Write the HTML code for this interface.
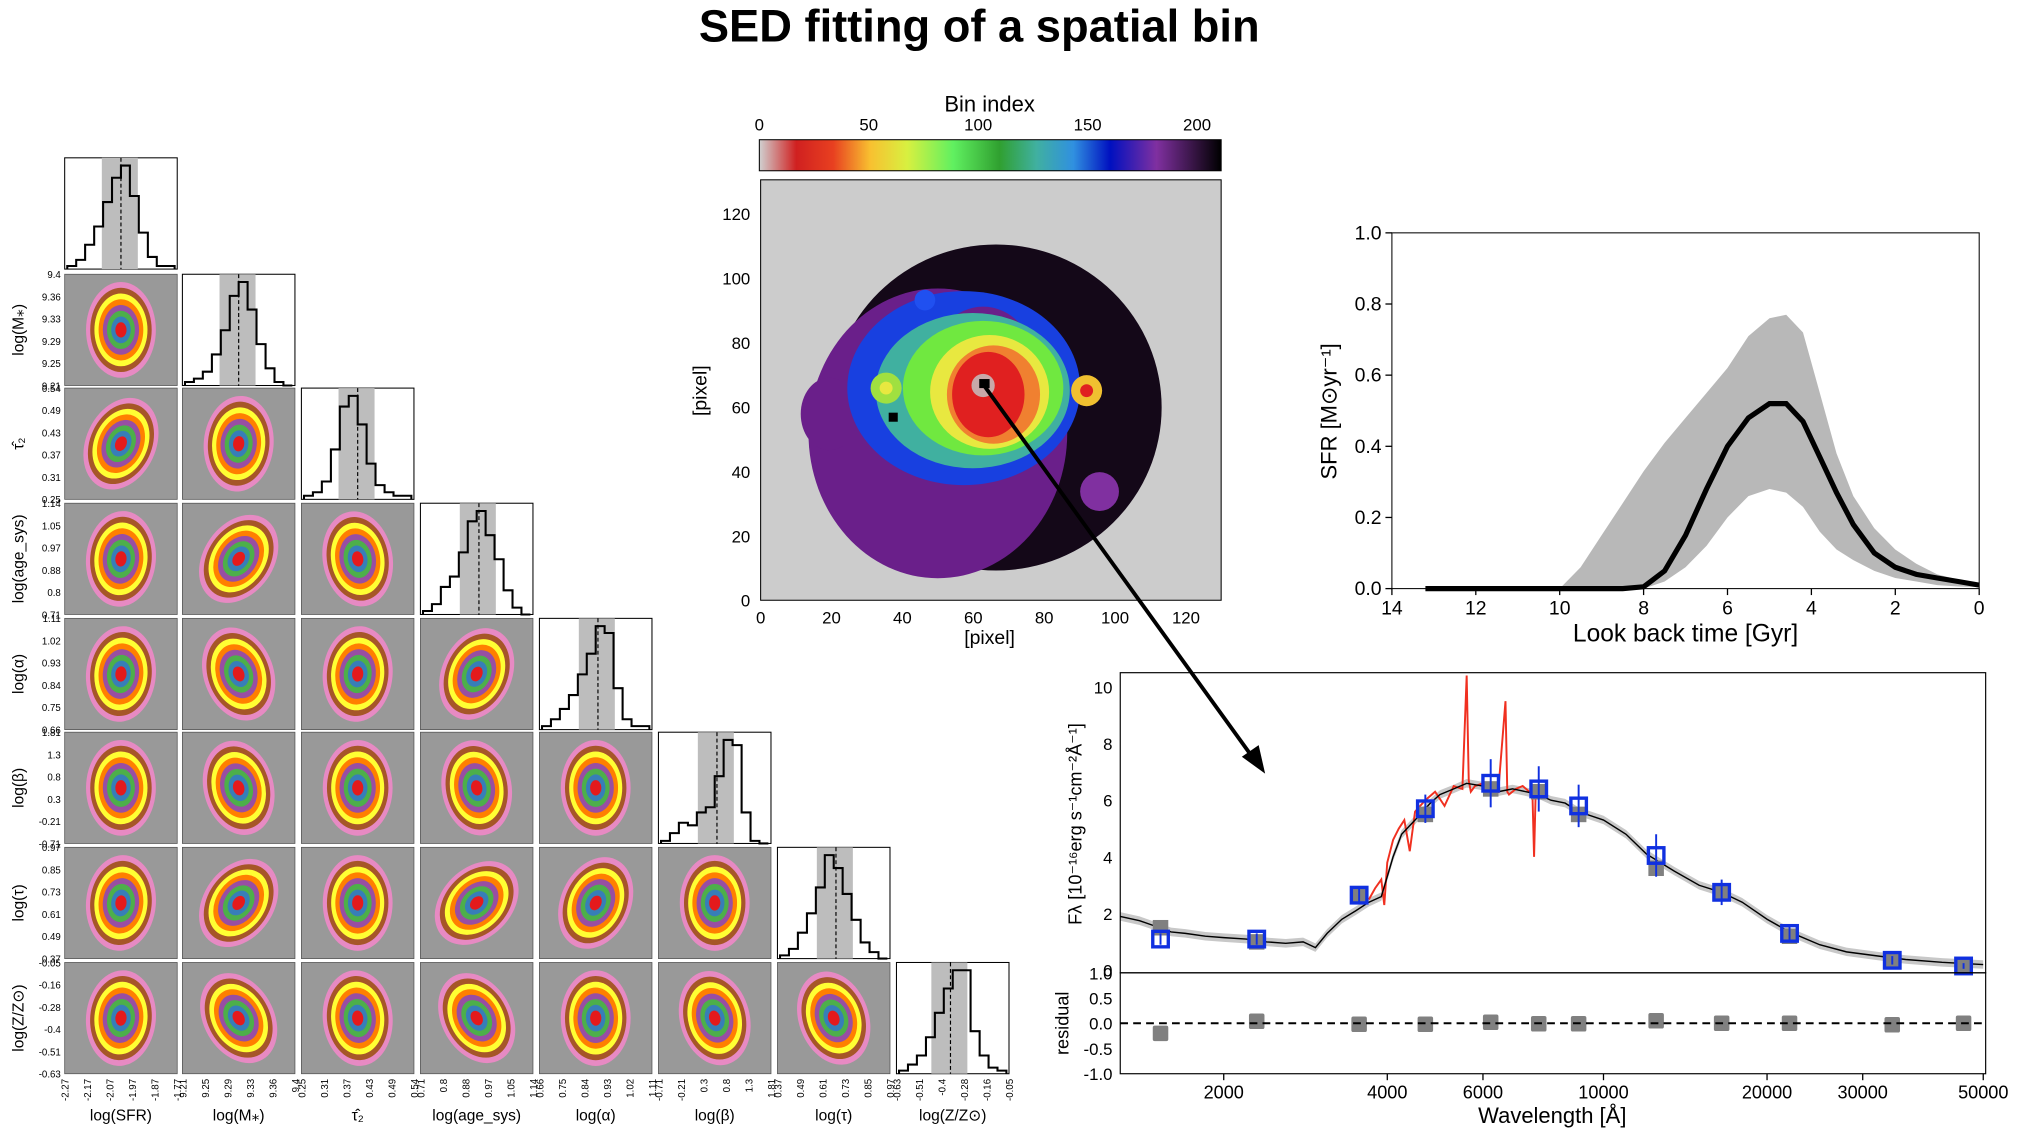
<!DOCTYPE html>
<html><head><meta charset="utf-8"><style>
html,body{margin:0;padding:0;background:#fff;}
svg{display:block;font-family:"Liberation Sans",sans-serif;}
</style></head><body>
<svg id="root" width="2018" height="1130" viewBox="0 0 1560 873.5" preserveAspectRatio="none" xmlns="http://www.w3.org/2000/svg">
<defs>
<linearGradient id="cbar" x1="0" x2="1" y1="0" y2="0">
<stop offset="0" stop-color="#d0d0d0"/><stop offset="0.08" stop-color="#d02020"/><stop offset="0.16" stop-color="#e84020"/>
<stop offset="0.24" stop-color="#f8c030"/><stop offset="0.32" stop-color="#d8f040"/><stop offset="0.42" stop-color="#60f060"/>
<stop offset="0.52" stop-color="#30a030"/><stop offset="0.6" stop-color="#40b0a0"/><stop offset="0.68" stop-color="#3090e0"/>
<stop offset="0.76" stop-color="#0010c0"/><stop offset="0.86" stop-color="#8030a0"/><stop offset="1" stop-color="#000000"/>
</linearGradient>
</defs>
<text x="757" y="32" text-anchor="middle" font-size="35" font-weight="bold">SED fitting of a spatial bin</text>
</svg>
<script>
// ---------- data ----------
var sfhAge = [13.2,10,9.5,9,8.5,8,7.5,7,6.5,6,5.5,5,4.6,4.2,3.8,3.4,3,2.5,2,1.5,1,0.5,0];
var sfhMed = [0,0,0,0,0,0.005,0.05,0.15,0.28,0.4,0.48,0.52,0.52,0.47,0.37,0.27,0.18,0.1,0.06,0.04,0.03,0.02,0.01];
var sfhUp  = [0,0,0.06,0.15,0.24,0.33,0.41,0.48,0.55,0.62,0.71,0.76,0.77,0.72,0.55,0.38,0.26,0.17,0.11,0.07,0.04,0.025,0.012];
var sfhLo  = [0,0,0,0,0,0,0.02,0.06,0.12,0.2,0.26,0.28,0.27,0.23,0.16,0.11,0.08,0.05,0.03,0.02,0.01,0.006,0.004];
var sfhXTicks = [14,12,10,8,6,4,2,0];
var sfhYTicks = [0,0.2,0.4,0.6,0.8,1.0];

var modWave = [1290,1400,1500,1600,1700,1850,2000,2200,2400,2600,2800,2950,3100,3300,3500,3700,3900,4000,4100,4250,4500,4800,5000,5300,5600,6000,6400,6800,7200,7600,8000,8500,9000,10000,11000,12000,13500,15000,16500,18000,20000,22000,25000,28000,32000,36000,42000,50000];
var modFlux = [1.9,1.75,1.55,1.35,1.3,1.2,1.15,1.1,1.0,0.95,1.0,0.8,1.3,1.8,2.1,2.4,2.6,3.3,4.0,4.8,5.3,5.9,6.2,6.4,6.6,6.5,6.3,6.4,6.3,6.2,6.0,5.9,5.6,5.3,4.8,4.1,3.5,3.0,2.75,2.4,1.8,1.35,0.9,0.65,0.5,0.38,0.28,0.2];
var obsWave = [3700,3800,3900,3950,4000,4100,4200,4300,4400,4500,4700,4900,5100,5300,5500,5600,5650,5700,5800,6000,6200,6400,6600,6650,6700,6900,7100,7300,7400,7450,7500];
var obsFlux = [2.5,2.9,3.2,2.3,3.8,4.6,5.0,5.3,4.2,5.6,6.0,6.3,5.8,6.5,6.4,10.4,6.7,6.3,6.5,6.6,6.4,6.3,9.5,6.3,6.2,6.4,6.5,6.3,6.3,4.0,6.2];
var photWave = [1530,2300,3550,4700,6200,7600,9000,12500,16500,22000,34000,46000];
var photFlux = [1.1,1.1,2.65,5.7,6.6,6.4,5.8,4.05,2.75,1.3,0.35,0.15];
var photErr  = [0.2,0.2,0.3,0.5,0.85,0.8,0.75,0.75,0.45,0.25,0.15,0.1];
var modPhot  = [1.5,1.0,2.7,5.5,6.4,6.3,5.5,3.6,2.7,1.2,0.35,0.15];
var resid    = [-0.2,0.04,-0.02,-0.02,0.02,-0.01,-0.01,0.05,0.0,0.0,-0.03,0.0];
var sedXTicks = [2000,4000,6000,10000,20000,30000,50000];
var sedYTicks = [0,2,4,6,8,10];
var resYTicks = [-1.0,-0.5,0.0,0.5,1.0];

var cbTicks = [0,50,100,150,200];
var mapTicks = [0,20,40,60,80,100,120];

var params = ['log(SFR)','log(M*)','tau2','log(age_sys)','log(alpha)','log(beta)','log(tau)','log(Z/Zsun)'];
var paramTicks = [
 ['-2.27','-2.17','-2.07','-1.97','-1.87','-1.77'],
 ['9.21','9.25','9.29','9.33','9.36','9.4'],
 ['0.25','0.31','0.37','0.43','0.49','0.54'],
 ['0.71','0.8','0.88','0.97','1.05','1.14'],
 ['0.66','0.75','0.84','0.93','1.02','1.11'],
 ['-0.71','-0.21','0.3','0.8','1.3','1.81'],
 ['0.37','0.49','0.61','0.73','0.85','0.97'],
 ['-0.63','-0.51','-0.4','-0.28','-0.16','-0.05']];
var histCounts = [
 [1,3,8,14,22,30,34,24,12,4,1,1],
 [1,2,4,9,16,26,30,22,12,5,1,0],
 [1,2,5,14,26,29,21,10,4,2,1,1],
 [1,3,8,11,18,27,30,23,16,7,2,0],
 [1,3,6,10,16,22,30,28,12,3,1,1],
 [1,4,8,7,12,14,26,40,38,12,1,0],
 [1,3,8,14,22,32,28,20,12,5,2,0],
 [1,3,6,12,20,28,34,34,14,6,2,1]];
var histMedian = [0.5,0.5,0.5,0.52,0.52,0.52,0.52,0.48];
// contour tilt (deg) per lower-triangle panel [row][col]
var tilt = [[],[0],[25,5],[5,35,-10],[5,-20,5,25],[0,-15,0,-10,0],[5,35,0,45,25,0],[5,-30,-5,-30,0,-15,-20]];

// ---------- helpers ----------
var NS='http://www.w3.org/2000/svg', root=document.getElementById('root');
function add(tag, attrs, name, parent){
  var e=document.createElementNS(NS,tag);
  for(var k in attrs){ if(k==='text') e.textContent=attrs[k]; else e.setAttribute(k,attrs[k]); }
  
  
  (parent||root).appendChild(e);
  return e;
}
function pts(a){return a.map(function(p){return p[0].toFixed(1)+','+p[1].toFixed(1);}).join(' ');}

// ---------- corner plot ----------
var cx0=[50,141,233,325,417,509,601,693], cy0=[122,212,300,389,478,566,655,744], PW=87, PH=86;
var cols=['#e78ac3','#a65628','#ffff33','#ff7f00','#984ea3','#4daf4a','#377eb8','#e41a1c'];
var labels=['log(SFR)','log(M⁎)','τ̂₂','log(age_sys)','log(α)','log(β)','log(τ)','log(Z/Z⊙)'];
for(var i=0;i<8;i++){
  for(var j=0;j<=i;j++){
    var x=cx0[j], y=cy0[i];
    var g=add('g',{},'corner-panel-'+i+'-'+j);
    if(i===j){
      add('rect',{x:x,y:y,width:PW,height:PH,fill:'#fff',stroke:'#000','stroke-width':0.8},'hist-frame',g);
      var m=histMedian[i];
      add('rect',{x:x+PW*(m-0.17),y:y,width:PW*0.32,height:PH,fill:'#bdbdbd'},'hist-credible-band',g);
      var h=histCounts[i], mx=Math.max.apply(null,h), n=h.length, bw=(PW-4)/n, p=[[x+2,y+PH]];
      for(var b=0;b<n;b++){var yy=y+PH-(h[b]/mx)*(PH-6); p.push([x+2+b*bw,yy]); p.push([x+2+(b+1)*bw,yy]);}
      p.push([x+2+n*bw,y+PH]);
      add('polyline',{points:pts(p),fill:'none',stroke:'#000','stroke-width':1.6},'histogram-'+i,g);
      add('line',{x1:x+PW*m,x2:x+PW*m,y1:y,y2:y+PH,stroke:'#000','stroke-width':0.9,'stroke-dasharray':'3,2'},'median-line',g);
    } else {
      add('rect',{x:x,y:y,width:PW,height:PH,fill:'#999999',stroke:'#555','stroke-width':0.6},'contour-panel-bg',g);
      var t=tilt[i][j];
      for(var c=0;c<8;c++){
        var s=1-c*0.12;
        add('ellipse',{cx:x+PW*0.5,cy:y+PH*0.5,rx:27*s,ry:37*s,fill:cols[c],transform:'rotate('+t+' '+(x+PW*0.5)+' '+(y+PH*0.5)+')'},'contour-level-'+c,g);
      }
    }
  }
  // bottom tick labels
  for(var k=0;k<6;k++){
    var tx=cx0[i]+k*PW/5;
    add('text',{x:0,y:0,'font-size':7.5,'text-anchor':'end',transform:'translate('+(tx+3)+',834) rotate(-90)',text:paramTicks[i][k]},'x-tick-label',root);
  }
  add('text',{x:cx0[i]+PW/2,y:866,'font-size':12,'text-anchor':'middle',text:labels[i]},'x-axis-title-'+i);
  if(i>0){
    for(var k=0;k<6;k++){
      add('text',{x:47,y:cy0[i]+PH-k*PH/5+3,'font-size':7.5,'text-anchor':'end',text:paramTicks[i][k]},'y-tick-label');
    }
    add('text',{x:0,y:0,'font-size':12,'text-anchor':'middle',transform:'translate(18,'+(cy0[i]+PH/2)+') rotate(-90)',text:labels[i]},'y-axis-title-'+i);
  }
}

// ---------- colorbar ----------
add('text',{x:765,y:86,'font-size':17,'text-anchor':'middle',text:'Bin index'},'colorbar-title');
add('rect',{x:587,y:108,width:357,height:24,fill:'url(#cbar)',stroke:'#000','stroke-width':0.8},'colorbar');
cbTicks.forEach(function(v){var xx=587+v/211*357;
  add('text',{x:xx,y:101,'font-size':13,'text-anchor':'middle',text:v},'colorbar-tick');});

// ---------- map ----------
var mg=add('g',{},'bin-map');
var mx0=588, my0=464, msx=2.74, msy=2.49;
function mX(v){return mx0+v*msx;} function mY(v){return my0-v*msy;}
add('rect',{x:588,y:139,width:356,height:325,fill:'#cccccc',stroke:'#000','stroke-width':0.8},'map-background',mg);
var blobs=[[770,315,128,126,'#140818'],[725,335,100,112,'#6a1f8a'],[641,320,22,28,'#6a1f8a'],[745,300,90,75,'#1840e0'],
 [760,282,40,45,'#6a1f8a'],[752,302,75,60,'#40b0a0'],[760,300,62,52,'#70e840'],[765,303,46,44,'#e8e840'],[768,305,36,38,'#f08030'],
 [764,305,28,33,'#e02020'],[760,298,9,9,'#c8a8a8'],[715,232,8,8,'#2050f0'],[850,380,15,15,'#8030a0'],
 [685,300,12,12,'#a0e040'],[685,300,5,5,'#e8e840'],[840,302,12,12,'#f0c030'],[840,302,5,5,'#e02020']];
blobs.forEach(function(b){add('ellipse',{cx:b[0],cy:b[1],rx:b[2],ry:b[3],fill:b[4]},'map-region',mg);});
add('rect',{x:757,y:293,width:8,height:7,fill:'#000'},'selected-bin',mg);
add('rect',{x:687,y:319,width:7,height:7,fill:'#000'},'map-bin-black',mg);
mapTicks.forEach(function(v){
  add('text',{x:mX(v),y:482,'font-size':13,'text-anchor':'middle',text:v},'map-x-tick');
  add('text',{x:580,y:mY(v)+5,'font-size':13,'text-anchor':'end',text:v},'map-y-tick');
});
add('text',{x:765,y:498,'font-size':15,'text-anchor':'middle',text:'[pixel]'},'map-x-title');
add('text',{x:0,y:0,'font-size':15,'text-anchor':'middle',transform:'translate(546,302) rotate(-90)',text:'[pixel]'},'map-y-title');

// ---------- SFH ----------
var sg=add('g',{},'sfh-chart');
function sX(v){return 1530-v/14*454;} function sY(v){return 455-v*275;}
var band=[]; sfhAge.forEach(function(a,k){band.push([sX(a),sY(sfhUp[k])]);});
for(var k=sfhAge.length-1;k>=0;k--) band.push([sX(sfhAge[k]),sY(sfhLo[k])]);
add('polygon',{points:pts(band),fill:'#b8b8b8'},'sfh-uncertainty-band',sg);
add('polyline',{points:pts(sfhAge.map(function(a,k){return [sX(a),sY(sfhMed[k])];})),fill:'none',stroke:'#000','stroke-width':4},'sfh-median-line',sg);
add('rect',{x:1076,y:180,width:454,height:275,fill:'none',stroke:'#000','stroke-width':0.8},'sfh-frame',sg);
sfhXTicks.forEach(function(v){add('line',{x1:sX(v),x2:sX(v),y1:455,y2:460,stroke:'#000'},'sfh-x-tickmark',sg);
  add('text',{x:sX(v),y:475,'font-size':15,'text-anchor':'middle',text:v},'sfh-x-tick',sg);});
sfhYTicks.forEach(function(v){add('line',{x1:1071,x2:1076,y1:sY(v),y2:sY(v),stroke:'#000'},'sfh-y-tickmark',sg);
  add('text',{x:1068,y:sY(v)+5,'font-size':15,'text-anchor':'end',text:v.toFixed(1)},'sfh-y-tick',sg);});
add('text',{x:1303,y:496,'font-size':19,'text-anchor':'middle',text:'Look back time [Gyr]'},'sfh-x-title',sg);
add('text',{x:0,y:0,'font-size':17,'text-anchor':'middle',transform:'translate(1033,318) rotate(-90)',text:'SFR [M⊙yr⁻¹]'},'sfh-y-title',sg);

// ---------- SED ----------
var eg=add('g',{},'sed-chart');
function wX(w){return 946+Math.log10(w/2000)*420;} function fY(v){return 750-v*21.9;} function rY(v){return 791-v*39;}
var mband=[]; modWave.forEach(function(w,k){mband.push([wX(w),fY(modFlux[k]+0.15)]);});
for(var k=modWave.length-1;k>=0;k--) mband.push([wX(modWave[k]),fY(modFlux[k]-0.15)]);
add('polygon',{points:pts(mband),fill:'#c8c8c8'},'model-band',eg);
add('polyline',{points:pts(obsWave.map(function(w,k){return [wX(w),fY(obsFlux[k])];})),fill:'none',stroke:'#f03020','stroke-width':1.5},'observed-spectrum',eg);
add('polyline',{points:pts(modWave.map(function(w,k){return [wX(w),fY(modFlux[k])];})),fill:'none',stroke:'#000','stroke-width':1.1},'model-spectrum',eg);
photWave.forEach(function(w,k){
  add('rect',{x:wX(w)-6,y:fY(modPhot[k])-6,width:12,height:12,fill:'#808080'},'model-photometry',eg);
  add('line',{x1:wX(w),x2:wX(w),y1:fY(photFlux[k]+photErr[k]),y2:fY(photFlux[k]-photErr[k]),stroke:'#1030e0','stroke-width':1.5},'phot-errorbar',eg);
  add('rect',{x:wX(w)-6,y:fY(photFlux[k])-6,width:12,height:12,fill:'none',stroke:'#1030e0','stroke-width':2.6},'observed-photometry',eg);
  add('rect',{x:wX(w)-6,y:rY(resid[k])-6,width:12,height:12,fill:'#808080',rx:1.5},'residual-point',eg);
});
add('rect',{x:866,y:520,width:669,height:232,fill:'none',stroke:'#000','stroke-width':0.9},'sed-frame',eg);
add('rect',{x:866,y:752,width:669,height:78,fill:'none',stroke:'#000','stroke-width':0.9},'residual-frame',eg);
add('line',{x1:866,x2:1535,y1:rY(0),y2:rY(0),stroke:'#000','stroke-width':1.5,'stroke-dasharray':'6,4'},'residual-zero-line',eg);
sedXTicks.forEach(function(v){add('line',{x1:wX(v),x2:wX(v),y1:830,y2:835,stroke:'#000'},'sed-x-tickmark',eg);
  add('text',{x:wX(v),y:849,'font-size':14,'text-anchor':'middle',text:v},'sed-x-tick',eg);});
sedYTicks.forEach(function(v){add('text',{x:860,y:fY(v)+5,'font-size':13,'text-anchor':'end',text:v},'sed-y-tick',eg);});
resYTicks.forEach(function(v){add('text',{x:860,y:rY(v)+5,'font-size':13,'text-anchor':'end',text:v.toFixed(1)},'residual-y-tick',eg);});
add('text',{x:1200,y:868,'font-size':17,'text-anchor':'middle',text:'Wavelength [Å]'},'sed-x-title',eg);
add('text',{x:0,y:0,'font-size':14,'text-anchor':'middle',transform:'translate(836,637) rotate(-90)',text:'Fλ [10⁻¹⁶erg s⁻¹cm⁻²Å⁻¹]'},'sed-y-title',eg);
add('text',{x:0,y:0,'font-size':14,'text-anchor':'middle',transform:'translate(826,791) rotate(-90)',text:'residual'},'residual-y-title',eg);

// ---------- arrow ----------
add('line',{x1:760,y1:297,x2:968,y2:585,stroke:'#000','stroke-width':3},'pointer-arrow-line');
add('polygon',{points:'978,598 960,585 973,576',fill:'#000'},'pointer-arrow-head');
</script>
</body></html>
